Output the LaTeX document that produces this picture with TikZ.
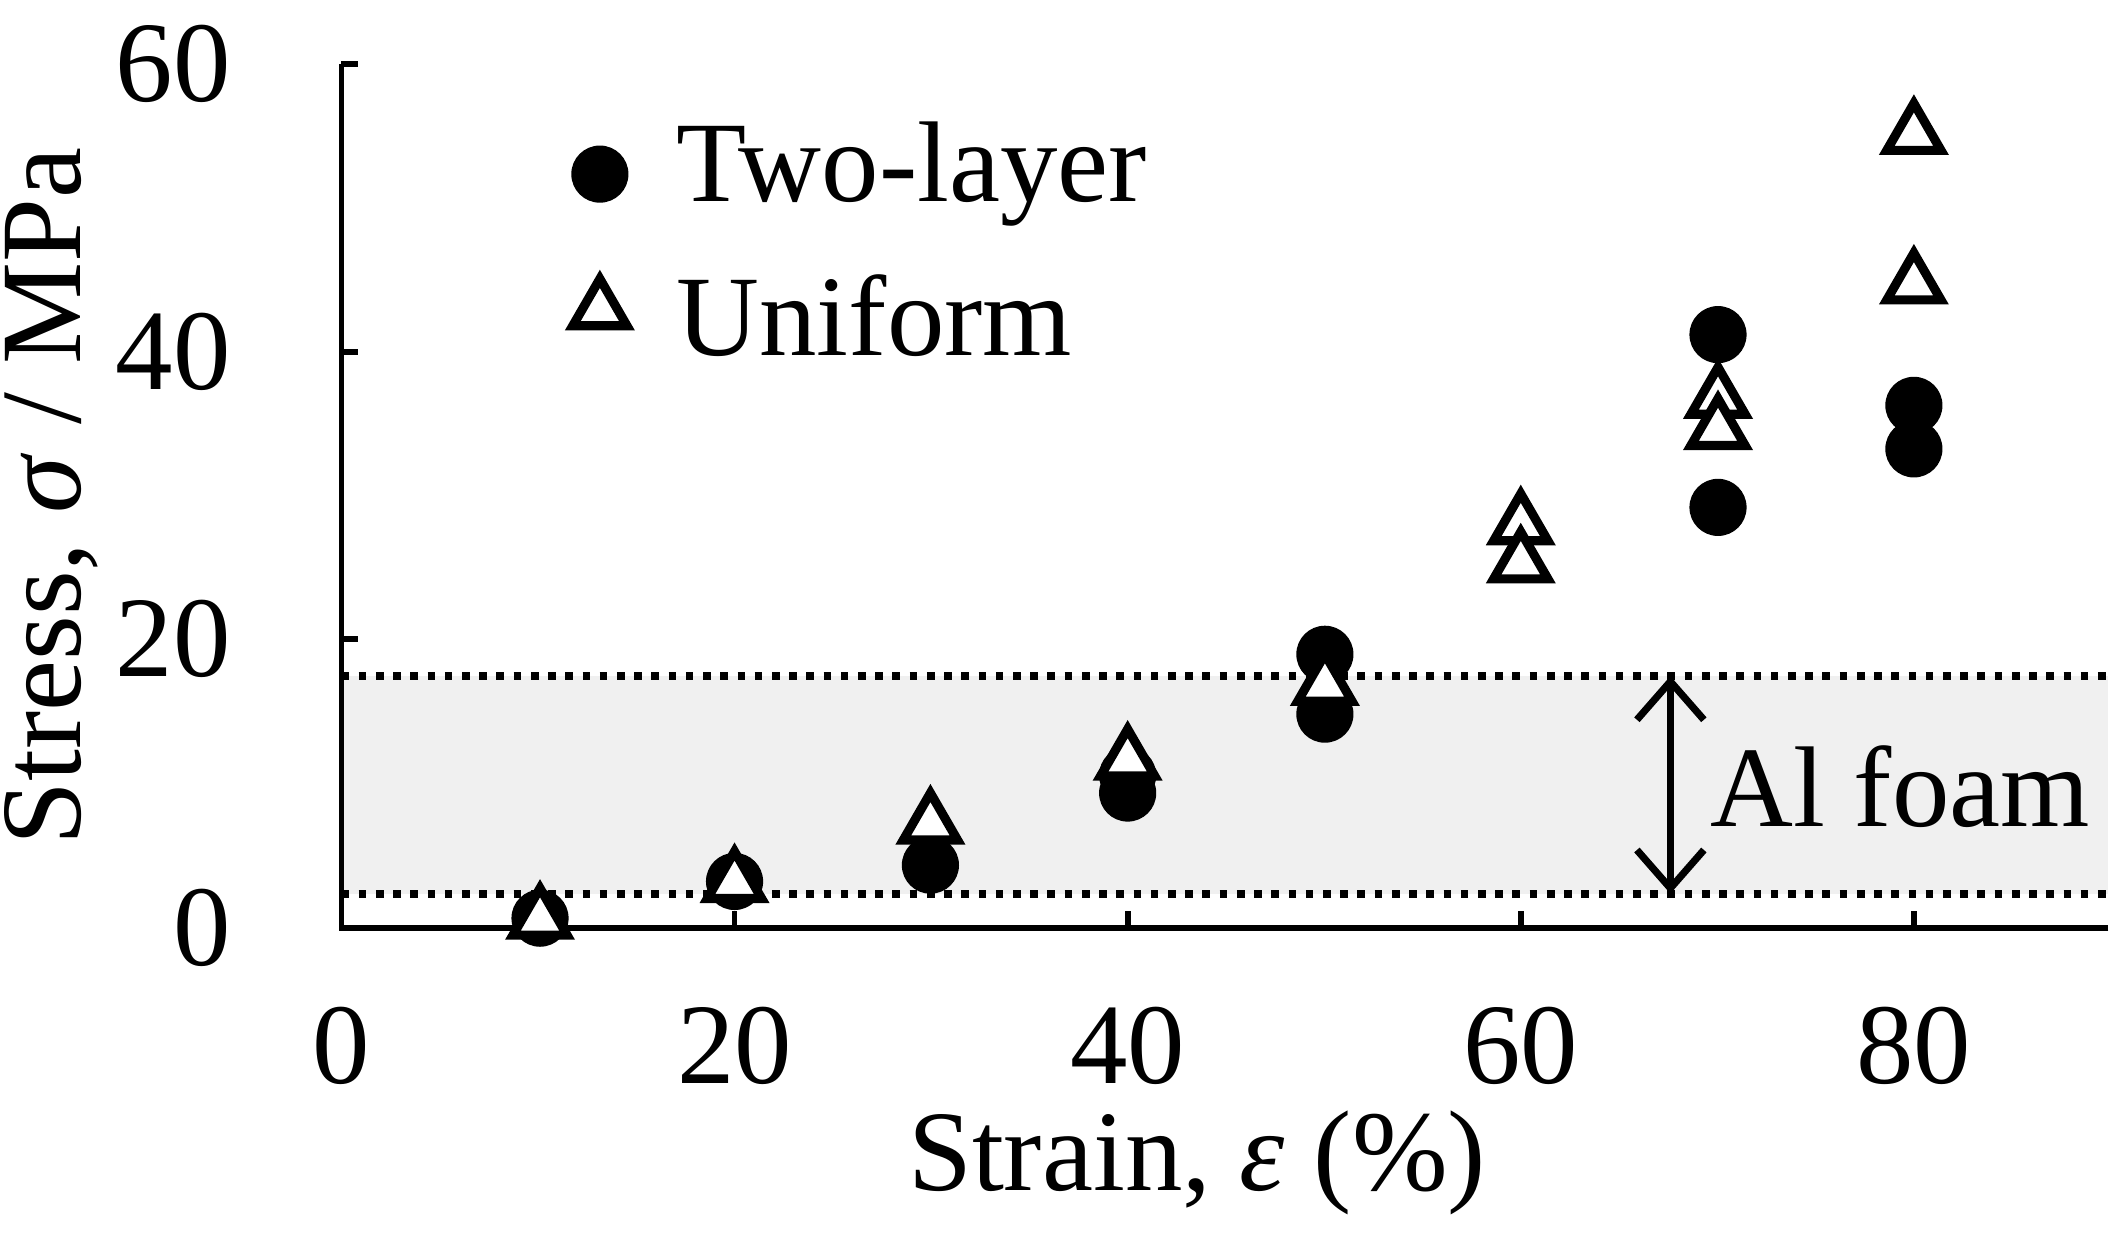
\documentclass[tikz,border=0pt]{standalone}
\usepackage{fontspec}
\setmainfont{Liberation Serif}
\usetikzlibrary{arrows.meta,shapes.geometric}
\begin{document}
\begin{tikzpicture}[x=0.01cm,y=-0.01cm,
  circ/.style={circle,fill=black,minimum size=0.42cm,inner sep=0pt},
  tri/.style={regular polygon,regular polygon sides=3,draw=black,line width=1.9pt,fill=white,minimum size=0.46cm,inner sep=0pt},
  lab/.style={font=\fontsize{24}{28}\selectfont},
  axis/.style={line width=1.2pt}]
\useasboundingbox (0,0) rectangle (1560,918);
\fill[black!6] (251,497) rectangle (1550,657);
\draw[dotted,line width=1.6pt] (251,497) -- (1550,497);
\draw[dotted,line width=1.6pt] (251,657) -- (1550,657);
\coordinate (o) at (251,682);
\coordinate (xe) at (1550,682);
\coordinate (ye) at (251,47);
\draw[axis] (xe) -- (o) -- (ye);
\foreach \x/\t in {251/0,540/20,829/40,1118/60,1407/80}{
  \draw[axis] (\x,682) -- (\x,670);
  \node[lab,anchor=north] at (\x,728) {\t};}
\foreach \y/\t in {682/0,470/20,259/40,47/60}{
  \draw[axis] (251,\y) -- (263,\y);
  \node[lab,anchor=east] at (182,\y) {\t};}
\node[lab,rotate=90] (yl) at (38,365) {Stress, \textit{σ} / MPa};
\node[lab] (xl) at (880,855) {Strain, \textit{ε} (\%)};
\coordinate (at) at (1228,497); \coordinate (ab) at (1228,657);
\draw[{Straight Barb[length=8pt,width=14pt]}-{Straight Barb[length=8pt,width=14pt]},line width=1.5pt] (at) -- (ab);
\node[lab,anchor=west] (al) at (1245,578) {Al foam};
\foreach \p [count=\i] in {(397,675),(540,648),(684,636),(829,583),(829,570),(974,481),(974,525),(1263,246),(1263,373),(1407,298),(1407,330)}
  \node[circ] (c\i) at \p {};
\foreach \p [count=\i] in {(397,680),(540,653),(684,610),(829,563),(974,508),(1118,390),(1118,418),(1263,297),(1263,320),(1407,103),(1407,213)}
  \node[tri,yshift=0.04cm] (t\i) at \p {};
\node[circ] (lc) at (441,128) {};
\node[tri,yshift=0.04cm] (lt) at (441,232) {};
\node[lab,anchor=west] (l1) at (485,128) {Two-layer};
\node[lab,anchor=west] (l2) at (485,232) {Uniform};
\end{tikzpicture}
\end{document}
